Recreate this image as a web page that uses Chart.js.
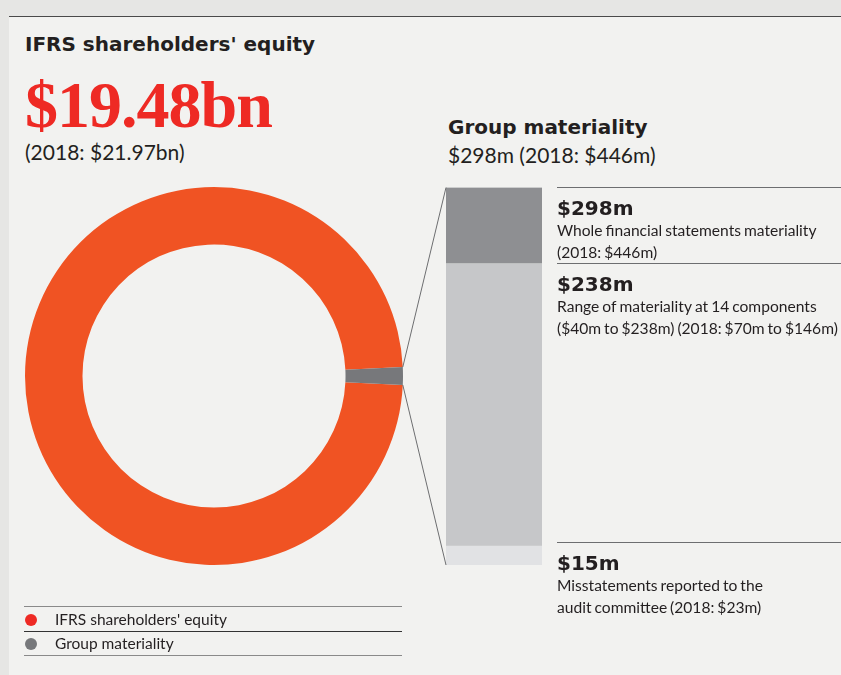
<!DOCTYPE html>
<html>
<head>
<meta charset="utf-8">
<script src="https://cdn.jsdelivr.net/npm/chart.js@4.4.1/dist/chart.umd.min.js"></script>
<style>
  html, body { margin: 0; padding: 0; background: #e6e6e4; }
  #page { position: relative; width: 841px; height: 675px; overflow: hidden; background: #e6e6e4; }
  #panel { position: absolute; left: 9px; top: 16px; right: 0; bottom: 0; background: #f2f2f0; border-top: 1.5px solid #4a4a4a; }
  .t { position: absolute; white-space: nowrap; color: #231f20; margin: 0; line-height: 1; }
  .bold { font-family: "DejaVu Sans", sans-serif; font-weight: 700; }
  .reg { font-family: "Lato", sans-serif; font-weight: 400; }
  .big { font-family: "Liberation Serif", serif; font-weight: 700; color: #ee2a24; letter-spacing: -1px; }
  .rule { position: absolute; left: 24px; width: 378px; height: 0; }
  .dot { position: absolute; width: 12px; height: 12px; border-radius: 50%; }
  canvas { position: absolute; }
</style>
</head>
<body>
<div id="page">
  <div id="panel"></div>

  <div class="t bold" style="left:25px; top:33.6px; font-size:20px;">IFRS shareholders' equity</div>
  <div class="t big" style="left:25px; top:71.7px; font-size:66px;">$19.48bn</div>
  <div class="t reg" style="left:25px; top:141.4px; font-size:21px;">(2018: $21.97bn)</div>

  <div class="t bold" style="left:448px; top:116.6px; font-size:20px;">Group materiality</div>
  <div class="t reg" style="left:448px; top:144.1px; font-size:21px;">$298m (2018: $446m)</div>

  <canvas id="donut" width="388" height="388" style="left:20px; top:182px;"></canvas>
  <canvas id="bar" width="446" height="475" style="left:395px; top:150px;"></canvas>

  <!-- legend -->
  <div class="rule" style="top:605.5px; border-top:1.5px solid #8a8a8a;"></div>
  <div class="rule" style="top:630.5px; border-top:1.5px solid #333;"></div>
  <div class="rule" style="top:655px; border-top:1.5px solid #8a8a8a;"></div>
  <div class="dot" style="left:24.5px; top:613.5px; background:#ee2a24;"></div>
  <div class="dot" style="left:24.5px; top:637.5px; background:#77787b;"></div>
  <div class="t reg" style="left:55px; top:612.3px; font-size:15.5px;">IFRS shareholders' equity</div>
  <div class="t reg" style="left:55px; top:636.3px; font-size:15.5px;">Group materiality</div>
</div>

<script>
// Shareholders' equity versus group materiality ($m)
const ringLabels = ["IFRS shareholders' equity", "Group materiality"];
const ringValues = [19480, 298];

// Materiality thresholds ($m), lowest first
const levelValues = [15, 238, 298];
const levelTitles = ["$15m", "$238m", "$298m"];
const levelNotes = [
  ["Misstatements reported to the", "audit committee (2018: $23m)"],
  ["Range of materiality at 14 components", "($40m to $238m) (2018: $70m to $146m)"],
  ["Whole financial statements materiality", "(2018: $446m)"]
];

const ringColors = ["#f05323", "#77787b"];
const levelColors = ["#e1e2e4", "#c6c7c9", "#8e8f92"];

// Turn the ring so the materiality slice sits at three o'clock
const total = ringValues.reduce((a, b) => a + b, 0);
const sliceDeg = ringValues[1] / total * 360;

const donut = new Chart(document.getElementById("donut"), {
  type: "doughnut",
  data: {
    labels: ringLabels,
    datasets: [{
      data: ringValues,
      backgroundColor: ringColors,
      borderWidth: 0
    }]
  },
  options: {
    responsive: false,
    animation: false,
    devicePixelRatio: 1,
    radius: 189,
    cutout: 135,
    rotation: sliceDeg / 2 - 270,
    plugins: { legend: { display: false }, tooltip: { enabled: false } }
  }
});

// Guide lines from the slice to the bar, plus the threshold notes
const notesPlugin = {
  id: "notes",
  afterDatasetsDraw(chart) {
    const ctx = chart.ctx;
    const area = chart.chartArea;
    const y = chart.scales.y;
    const dc = document.getElementById("donut");
    const bc = chart.canvas;
    const dx = dc.offsetLeft - bc.offsetLeft;
    const dy = dc.offsetTop - bc.offsetTop;

    const arc = donut.getDatasetMeta(0).data[1];
    const R = arc.outerRadius;
    const ends = [arc.startAngle, arc.endAngle].map(a => ({
      x: arc.x + R * Math.cos(a) + dx,
      y: arc.y + R * Math.sin(a) + dy
    })).sort((p, q) => p.y - q.y);

    const topBar = chart.getDatasetMeta(levelValues.length - 1).data[0];
    const lowBar = chart.getDatasetMeta(0).data[0];
    const left = topBar.x - topBar.width / 2;

    ctx.save();
    ctx.strokeStyle = "#6d6e70";
    ctx.lineWidth = 1;
    ctx.beginPath();
    ctx.moveTo(ends[0].x, ends[0].y);
    ctx.lineTo(left, topBar.y);
    ctx.moveTo(ends[1].x, ends[1].y);
    ctx.lineTo(left, lowBar.base);
    ctx.stroke();

    const tx = area.right + 15;
    levelValues.forEach((v, i) => {
      const ly = Math.min(y.getPixelForValue(v), area.bottom - 22.5);
      ctx.strokeStyle = "#6d6e70";
      ctx.lineWidth = 1.2;
      ctx.beginPath();
      ctx.moveTo(tx, ly);
      ctx.lineTo(chart.width, ly);
      ctx.stroke();

      ctx.fillStyle = "#231f20";
      ctx.textBaseline = "alphabetic";
      ctx.textAlign = "left";
      ctx.font = '700 20px "DejaVu Sans"';
      ctx.fillText(levelTitles[i], tx, ly + 27);
      ctx.font = '400 15.6px "Lato"';
      if ("wordSpacing" in ctx) ctx.wordSpacing = "-1px";
      levelNotes[i].forEach((line, k) => {
        ctx.fillText(line, tx, ly + 48.5 + k * 21.5);
      });
      if ("wordSpacing" in ctx) ctx.wordSpacing = "0px";
    });
    ctx.restore();
  }
};

new Chart(document.getElementById("bar"), {
  type: "bar",
  data: {
    labels: ["Group materiality"],
    datasets: levelValues.map((v, i) => ({
      label: levelTitles[i],
      data: [[i ? levelValues[i - 1] : 0, v]],
      backgroundColor: levelColors[i],
      borderWidth: 0,
      grouped: false,
      barPercentage: 1,
      categoryPercentage: 1
    }))
  },
  options: {
    responsive: false,
    animation: false,
    devicePixelRatio: 1,
    layout: { padding: { left: 51, right: 299, top: 37.5, bottom: 60 } },
    scales: {
      x: { display: false },
      y: { display: false, min: 0, max: Math.max(...levelValues) }
    },
    plugins: { legend: { display: false }, tooltip: { enabled: false } }
  },
  plugins: [notesPlugin]
});
</script>
</body>
</html>
